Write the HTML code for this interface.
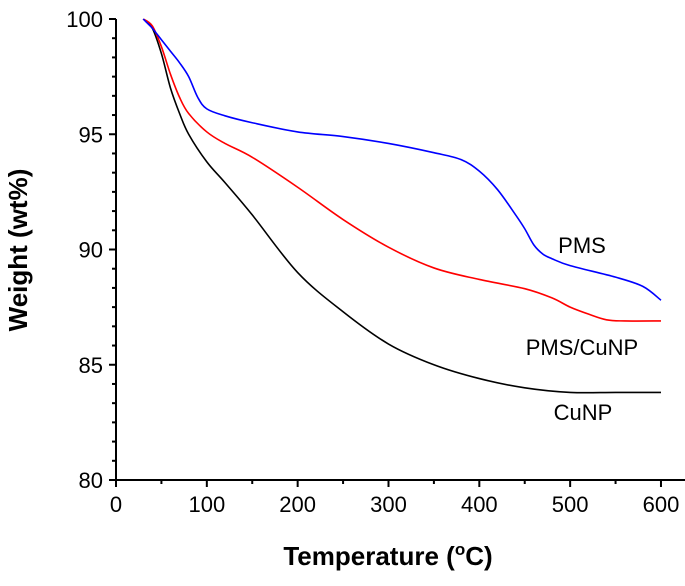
<!DOCTYPE html>
<html><head><meta charset="utf-8"><style>
body{margin:0;background:#fff;}
svg text{font-family:"Liberation Sans",Arial,sans-serif;}
</style></head><body>
<svg id="chart" width="685" height="581">
<g id="axes"></g><g id="series"></g>
<text x="582" y="253" font-size="22" text-anchor="middle">PMS</text>
<text x="582" y="355" font-size="22" text-anchor="middle">PMS/CuNP</text>
<text x="583" y="420" font-size="22" text-anchor="middle">CuNP</text>
<text x="388" y="565" font-size="26" font-weight="bold" text-anchor="middle">Temperature (<tspan font-size="17" dy="-10">o</tspan><tspan dy="10">C)</tspan></text>
<text transform="translate(27,250) rotate(-90)" font-size="26" font-weight="bold" text-anchor="middle">Weight (wt%)</text>
</svg>
<script>
const xTicks=[0,100,200,300,400,500,600];
const yTicks=[80,85,90,95,100];
const pmsT=[30,35,40,50,60,70,80,90,100,120,150,200,250,300,350,380,400,420,440,450,460,470,480,500,550,580,600];
const pmsW=[100,99.8,99.6,99.1,98.6,98.1,97.5,96.6,96.1,95.8,95.5,95.1,94.9,94.6,94.2,93.9,93.4,92.6,91.5,90.9,90.2,89.8,89.6,89.3,88.8,88.4,87.8];
const pcT=[30,40,50,60,70,80,100,120,150,200,250,300,350,400,450,480,500,520,540,560,600];
const pcW=[100,99.7,98.8,97.6,96.6,95.9,95.1,94.6,94.0,92.7,91.3,90.1,89.2,88.7,88.3,87.9,87.5,87.2,86.95,86.9,86.9];
const cuT=[30,40,50,60,70,80,100,120,150,200,250,300,350,400,450,500,550,600];
const cuW=[100,99.6,98.5,97.0,95.9,95.0,93.8,92.9,91.5,89.0,87.3,85.9,85.0,84.4,84.0,83.8,83.8,83.8];
const X=v=>116+v*0.9083;
const Y=v=>480-(v-80)*23.05;
const NS="http://www.w3.org/2000/svg";
const ax=document.getElementById('axes'),se=document.getElementById('series');
function ln(x1,y1,x2,y2,p,name){const l=document.createElementNS(NS,'line');l.setAttribute('x1',x1);l.setAttribute('y1',y1);l.setAttribute('x2',x2);l.setAttribute('y2',y2);l.setAttribute('stroke','#000');l.setAttribute('stroke-width',2);


p.appendChild(l);}
function tx(x,y,s,a,name){const t=document.createElementNS(NS,'text');t.setAttribute('x',x);t.setAttribute('y',y);t.setAttribute('font-size',22);t.setAttribute('text-anchor',a);t.textContent=s;


ax.appendChild(t);}
ln(X(0),Y(80),X(628),Y(80),ax,'x-axis');
ln(X(0),Y(80),X(0),Y(100),ax,'y-axis');
xTicks.forEach(v=>{ln(X(v),Y(80),X(v),Y(80)+7,ax,'x-tick');tx(X(v),Y(80)+32,String(v),'middle','x-tick-label');});
for(let v=50;v<640;v+=100)ln(X(v),Y(80),X(v),Y(80)+4,ax,'x-minor-tick');
yTicks.forEach(v=>{ln(X(0)-7,Y(v),X(0),Y(v),ax,'y-tick');tx(X(0)-13,Y(v)+8,String(v),'end','y-tick-label');});
for(let v=80;v<100;v+=5)for(let k=1;k<6;k++)ln(X(0)-4,Y(v+k*5/6),X(0),Y(v+k*5/6),ax,'y-minor-tick');
function series(T,W,c,name){const P=T.map((t,i)=>[X(t),Y(W[i])]);let d='M'+P[0][0]+','+P[0][1];
for(let i=0;i<P.length-1;i++){const p0=P[i-1]||P[i],p1=P[i],p2=P[i+1],p3=P[i+2]||P[i+1];
d+=' C'+(p1[0]+(p2[0]-p0[0])/6)+','+(p1[1]+(p2[1]-p0[1])/6)+' '+(p2[0]-(p3[0]-p1[0])/6)+','+(p2[1]-(p3[1]-p1[1])/6)+' '+p2[0]+','+p2[1];}
const p=document.createElementNS(NS,'path');p.setAttribute('d',d);p.setAttribute('fill','none');p.setAttribute('stroke',c);p.setAttribute('stroke-width',1.6);


se.appendChild(p);}
series(cuT,cuW,'#000','line-cunp');
series(pcT,pcW,'#f00','line-pms-cunp');
series(pmsT,pmsW,'#00f','line-pms');
</script>
</body></html>
